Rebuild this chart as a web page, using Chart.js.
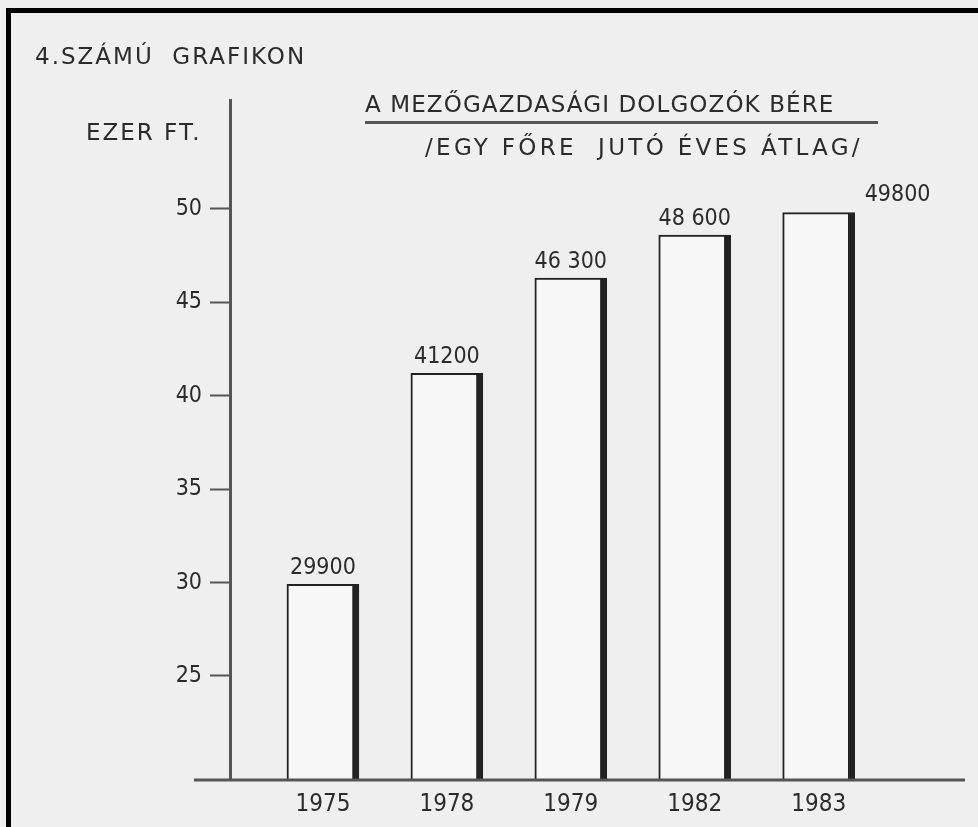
<!DOCTYPE html>
<html>
<head>
<meta charset="utf-8">
<script src="https://cdn.jsdelivr.net/npm/chart.js@4.4.1/dist/chart.umd.min.js"></script>
<style>
  html, body { margin: 0; padding: 0; }
  body { width: 978px; height: 827px; background: #efefef; position: relative; overflow: hidden;
         font-family: "DejaVu Sans", sans-serif; color: #2b2b2b; }
  #frame { position: absolute; left: 6px; top: 8px; width: 990px; height: 830px;
           border-left: 5px solid #000; border-top: 5px solid #000; }
  .txt { position: absolute; white-space: pre; line-height: 1; }
  #wrap { position: absolute; left: 0; top: 0; width: 978px; height: 827px; }
</style>
</head>
<body>
<div id="frame"></div>
<div id="wrap"><canvas id="chart" width="978" height="827"></canvas></div>
<div class="txt" style="left:35px; top:45px; font-size:23px; letter-spacing:2px;">4.SZÁMÚ  GRAFIKON</div>
<div class="txt" style="left:86px; top:121px; font-size:23px; letter-spacing:2px;">EZER FT.</div>
<div class="txt" style="left:365px; top:93px; font-size:23px; letter-spacing:1.1px; border-bottom:3px solid #555; padding-bottom:5px; padding-right:44px;">A MEZŐGAZDASÁGI DOLGOZÓK BÉRE</div>
<div class="txt" style="left:425px; top:136px; font-size:23px; letter-spacing:3.3px;">/EGY FŐRE  JUTÓ ÉVES ÁTLAG/</div>

<script>
// years on the x axis, average yearly wage per person (thousand Ft)
const years = ['1975', '1978', '1979', '1982', '1983'];
const wages = [29.9, 41.2, 46.3, 48.6, 49.8];
const wageLabels = ['29900', '41200', '46 300', '48 600', '49800'];
const yTicks = [25, 30, 35, 40, 45, 50];

const inkColor = '#2b2b2b';
const lineColor = '#555';
const fontFamily = '"DejaVu Sans Condensed", "DejaVu Sans", sans-serif';

// value written above each bar, the last one next to it
const barLabels = {
  id: 'barLabels',
  afterDatasetsDraw(chart) {
    const ctx = chart.ctx;
    const meta = chart.getDatasetMeta(0);
    ctx.save();
    ctx.fillStyle = inkColor;
    ctx.font = '23px ' + fontFamily;
    ctx.textBaseline = 'bottom';
    meta.data.forEach((bar, i) => {
      if (i === meta.data.length - 1) {
        ctx.textAlign = 'left';
        ctx.fillText(wageLabels[i], bar.x + bar.width / 2 + 10, bar.y - 6);
      } else {
        ctx.textAlign = 'center';
        ctx.fillText(wageLabels[i], bar.x, bar.y - 5);
      }
    });
    ctx.restore();
  }
};

// baseline runs a bit past the y axis on the left
const baseLine = {
  id: 'baseLine',
  afterDraw(chart) {
    const { ctx, chartArea } = chart;
    ctx.save();
    ctx.strokeStyle = lineColor;
    ctx.lineWidth = 3;
    ctx.beginPath();
    ctx.moveTo(chartArea.left - 36, chartArea.bottom);
    ctx.lineTo(chartArea.right + 10, chartArea.bottom);
    ctx.stroke();
    ctx.restore();
  }
};

new Chart(document.getElementById('chart'), {
  type: 'bar',
  data: {
    datasets: [{
      data: wages.map((w, i) => ({ x: i, y: w })),
      backgroundColor: '#f7f7f7',
      borderColor: '#222',
      borderWidth: { left: 2, top: 2, right: 7, bottom: 0 },
      borderSkipped: false,
      barThickness: 72
    }]
  },
  options: {
    responsive: false,
    animation: false,
    layout: { padding: { left: 0, top: 100, right: 23, bottom: 0 } },
    plugins: { legend: { display: false }, tooltip: { enabled: false } },
    scales: {
      x: {
        type: 'linear',
        offset: false,
        min: -0.75,
        max: 5.1,
        afterBuildTicks: (scale) => { scale.ticks = years.map((_, i) => ({ value: i })); },
        afterFit: (scale) => { scale.height = 47; },
        grid: { display: true, offset: false, drawOnChartArea: false, drawTicks: false, color: 'rgba(0,0,0,0)' },
        border: { display: false },
        ticks: {
          padding: 10,
          color: inkColor,
          font: { family: fontFamily, size: 24 },
          callback: (v) => years[v] ?? ''
        }
      },
      y: {
        min: 19.43,
        max: 55.83,
        afterBuildTicks: (scale) => { scale.ticks = yTicks.map(v => ({ value: v })); },
        afterFit: (scale) => { scale.width = 230; },
        grid: { drawOnChartArea: false, drawTicks: true, tickLength: 20, tickWidth: 2, color: lineColor },
        border: { display: true, color: lineColor, width: 3 },
        ticks: {
          padding: 8,
          color: inkColor,
          font: { family: fontFamily, size: 23 }
        }
      }
    }
  },
  plugins: [barLabels, baseLine]
});
</script>
</body>
</html>
